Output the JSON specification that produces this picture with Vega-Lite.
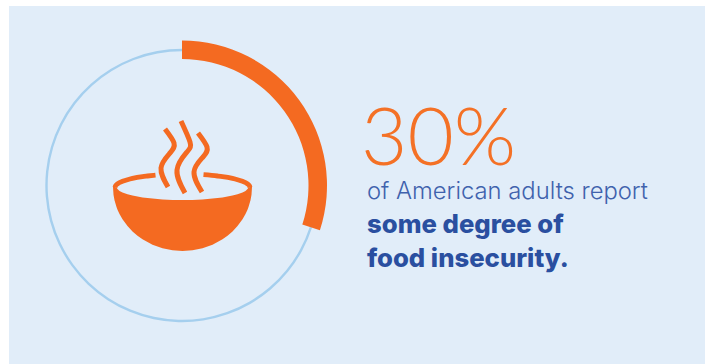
{
  "$schema": "https://vega.github.io/schema/vega-lite/v6.json",
  "width": 696,
  "height": 358,
  "autosize": "none",
  "padding": {"left": 9, "top": 6, "right": 5, "bottom": 0},
  "background": "#ffffff",
  "view": {"fill": "#e1edf9", "stroke": null},
  "datasets": {
    "share": [
      {"group": "food insecure", "pct": 30},
      {"group": "food secure", "pct": 70}
    ],
    "bowl": [
      {"x": -69, "top": 1.5, "bottom": 1.5},
      {"x": -68.5, "top": 1.5, "bottom": 9.2},
      {"x": -67.5, "top": 1.5, "bottom": 14.7},
      {"x": -65.5, "top": 2, "bottom": 21.6},
      {"x": -64.5, "top": 3.5, "bottom": 24.2},
      {"x": -62.5, "top": 5.4, "bottom": 28.5},
      {"x": -59.5, "top": 7, "bottom": 33.8},
      {"x": -54.5, "top": 8.8, "bottom": 40.6},
      {"x": -49.5, "top": 10.1, "bottom": 45.9},
      {"x": -44.5, "top": 11.1, "bottom": 50.3},
      {"x": -39.5, "top": 11.9, "bottom": 53.8},
      {"x": -29.5, "top": 13.1, "bottom": 59.2},
      {"x": -19.5, "top": 13.9, "bottom": 62.8},
      {"x": -9.5, "top": 14.4, "bottom": 64.8},
      {"x": 0.5, "top": 14.5, "bottom": 65.5},
      {"x": 10.5, "top": 14.4, "bottom": 64.8},
      {"x": 20.5, "top": 13.9, "bottom": 62.8},
      {"x": 30.5, "top": 13.1, "bottom": 59.2},
      {"x": 40.5, "top": 11.9, "bottom": 53.8},
      {"x": 45.5, "top": 11.1, "bottom": 50.3},
      {"x": 50.5, "top": 10.1, "bottom": 45.9},
      {"x": 55.5, "top": 8.8, "bottom": 40.6},
      {"x": 60.5, "top": 7, "bottom": 33.8},
      {"x": 63.5, "top": 5.4, "bottom": 28.5},
      {"x": 65.5, "top": 3.5, "bottom": 24.2},
      {"x": 66.5, "top": 2, "bottom": 21.6},
      {"x": 68.5, "top": 1.5, "bottom": 14.7},
      {"x": 69.5, "top": 1.5, "bottom": 9.2},
      {"x": 70, "top": 1.5, "bottom": 1.5}
    ],
    "rim": [
      {"part": "left", "x": -67, "y": 2},
      {"part": "left", "x": -66.5, "y": 0.36},
      {"part": "left", "x": -64.5, "y": -1.65},
      {"part": "left", "x": -59.5, "y": -4.2},
      {"part": "left", "x": -54.5, "y": -5.8},
      {"part": "left", "x": -49.5, "y": -7.1},
      {"part": "left", "x": -39.5, "y": -8.9},
      {"part": "left", "x": -34.5, "y": -9.5},
      {"part": "left", "x": -26.5, "y": -10.4},
      {"part": "right", "x": 21.5, "y": -10.8},
      {"part": "right", "x": 35.5, "y": -9.5},
      {"part": "right", "x": 40.5, "y": -8.9},
      {"part": "right", "x": 50.5, "y": -7.1},
      {"part": "right", "x": 55.5, "y": -5.8},
      {"part": "right", "x": 60.5, "y": -4.2},
      {"part": "right", "x": 65.5, "y": -1.65},
      {"part": "right", "x": 67.5, "y": 0.36},
      {"part": "right", "x": 68, "y": 2}
    ],
    "steam": [
      {"wisp": "left", "order": 1, "x": -17, "y": -56.5},
      {"wisp": "left", "order": 2, "x": -8, "y": -42.5},
      {"wisp": "left", "order": 3, "x": -12, "y": -32.5},
      {"wisp": "left", "order": 4, "x": -21, "y": -17.5},
      {"wisp": "left", "order": 5, "x": -14, "y": 1.5},
      {"wisp": "middle", "order": 1, "x": -1, "y": -64.5},
      {"wisp": "middle", "order": 2, "x": 8, "y": -43.5},
      {"wisp": "middle", "order": 3, "x": 5, "y": -33.5},
      {"wisp": "middle", "order": 4, "x": -5, "y": -15.5},
      {"wisp": "middle", "order": 5, "x": 3, "y": 7.5},
      {"wisp": "right", "order": 1, "x": 16, "y": -52.5},
      {"wisp": "right", "order": 2, "x": 25, "y": -38.5},
      {"wisp": "right", "order": 3, "x": 21, "y": -28.5},
      {"wisp": "right", "order": 4, "x": 12, "y": -13.5},
      {"wisp": "right", "order": 5, "x": 20, "y": 6.5}
    ]
  },
  "encoding": {
    "x": {"type": "quantitative", "scale": {"domain": [-173, 523]}, "axis": null},
    "y": {"type": "quantitative", "scale": {"domain": [-179.5, 178.5], "reverse": true}, "axis": null}
  },
  "layer": [
    {
      "data": {"name": "share"},
      "mark": {"type": "arc", "radius": 136.7, "radius2": 134.3, "fill": "#a5cfee"},
      "encoding": {
        "x": {"datum": 0},
        "y": {"datum": 0},
        "theta": {"field": "pct", "type": "quantitative", "stack": true, "scale": {"domain": [0, 100]}},
        "order": {"field": "group"}
      }
    },
    {
      "data": {"name": "share"},
      "transform": [{"filter": "datum.group === 'food insecure'"}],
      "mark": {"type": "arc", "radius": 145, "radius2": 126.5, "fill": "#f46a21"},
      "encoding": {
        "x": {"datum": 0},
        "y": {"datum": 0},
        "theta": {"field": "pct", "type": "quantitative", "stack": true, "scale": {"domain": [0, 100]}}
      }
    },
    {
      "data": {"name": "bowl"},
      "mark": {"type": "area", "fill": "#f46a21", "orient": "vertical"},
      "encoding": {
        "x": {"field": "x", "type": "quantitative"},
        "y": {"field": "top", "type": "quantitative"},
        "y2": {"field": "bottom"}
      }
    },
    {
      "data": {"name": "rim"},
      "mark": {"type": "line", "stroke": "#f46a21", "strokeWidth": 4.8, "interpolate": "monotone"},
      "encoding": {
        "x": {"field": "x", "type": "quantitative"},
        "y": {"field": "y", "type": "quantitative"},
        "detail": {"field": "part"}
      }
    },
    {
      "data": {"name": "steam"},
      "mark": {"type": "line", "stroke": "#f46a21", "strokeWidth": 5, "interpolate": "natural"},
      "encoding": {
        "x": {"field": "x", "type": "quantitative"},
        "y": {"field": "y", "type": "quantitative"},
        "detail": {"field": "wisp"},
        "order": {"field": "order"}
      }
    },
    {
      "data": {"values": [{"label": "30%"}]},
      "mark": {"type": "text", "align": "left", "baseline": "alphabetic", "font": "Lato", "fontWeight": 300, "fontSize": 80, "color": "#f47126"},
      "encoding": {
        "x": {"datum": 179},
        "y": {"datum": -20.5},
        "text": {"field": "label"}
      }
    },
    {
      "data": {"values": [{"label": "of American adults report"}]},
      "mark": {"type": "text", "align": "left", "baseline": "alphabetic", "font": "Inter", "fontWeight": 300, "fontSize": 23.8, "color": "#3f62ad"},
      "encoding": {
        "x": {"datum": 185},
        "y": {"datum": 13.5},
        "text": {"field": "label"}
      }
    },
    {
      "data": {"values": [{"label": "some degree of"}]},
      "mark": {"type": "text", "align": "left", "baseline": "alphabetic", "font": "Inter", "fontWeight": 800, "fontSize": 25.7, "color": "#2a4fa0"},
      "encoding": {
        "x": {"datum": 185},
        "y": {"datum": 47.5},
        "text": {"field": "label"}
      }
    },
    {
      "data": {"values": [{"label": "food insecurity."}]},
      "mark": {"type": "text", "align": "left", "baseline": "alphabetic", "font": "Inter", "fontWeight": 800, "fontSize": 25.7, "color": "#2a4fa0"},
      "encoding": {
        "x": {"datum": 185},
        "y": {"datum": 81.5},
        "text": {"field": "label"}
      }
    }
  ]
}
